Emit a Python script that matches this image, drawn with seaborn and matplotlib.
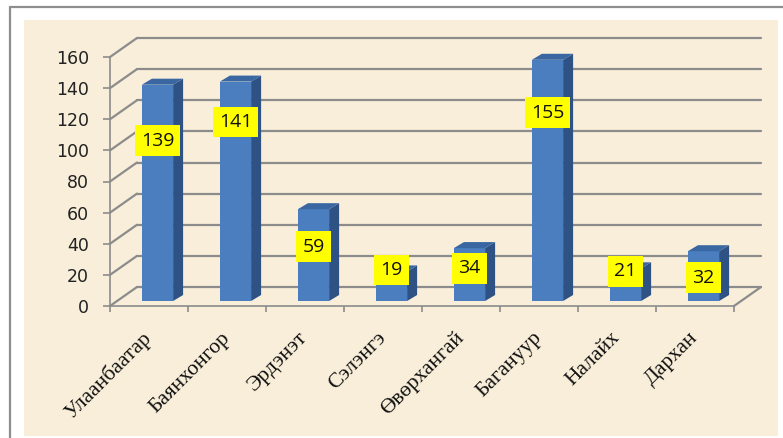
import matplotlib
matplotlib.use("Agg")
import matplotlib.pyplot as plt
import numpy as np
import pandas as pd
import seaborn as sns
from matplotlib.transforms import Affine2D, IdentityTransform
from matplotlib.patches import Polygon, Rectangle
from matplotlib.lines import Line2D

# ---- data ----
categories = ["Улаанбаатар", "Баянхонгор", "Эрдэнэт", "Сэлэнгэ",
              "Өвөрхангай", "Багануур", "Налайх", "Дархан"]
values = [139, 141, 59, 19, 34, 155, 21, 32]
label_pos = [103, 115, 35, 20, 21, 121, 19, 15]
yticks = [0, 20, 40, 60, 80, 100, 120, 140, 160]

# ---- style ----
W, H = 783, 438
FRONT = "#4A7EBF"
SIDE = "#2E5284"
TOP = "#3A66A2"
GRID = "#8C8C8C"
PARCH = "#F8EED9"
DEPTH = (27, 19)      # front plane -> back wall (display px)
BAR_OFF = (8.5, 5)    # front plane -> bar front face
BAR_D = (10, 6)       # bar depth

sns.set_theme(style="white")
plt.rcParams["font.family"] = ["DejaVu Sans"]

fig = plt.figure(figsize=(W / 100, H / 100), dpi=100)
fig.patch.set_facecolor("white")

def fig_rect(x0, y0, x1, y1, **kw):
    return Rectangle((x0 / W, 1 - y1 / H), (x1 - x0) / W, (y1 - y0) / H,
                     transform=fig.transFigure, **kw)

fig.add_artist(fig_rect(24, 20, 778, 436, facecolor=PARCH, edgecolor="none", zorder=0))
fig.add_artist(Line2D([10 / W, 10 / W], [0, 1 - 7 / H], transform=fig.transFigure,
                      color="#8E8E8E", lw=1.6, zorder=1))
fig.add_artist(Line2D([10 / W, 1], [1 - 7 / H, 1 - 7 / H], transform=fig.transFigure,
                      color="#8E8E8E", lw=1.6, zorder=1))

ax = fig.add_axes([110 / W, (H - 306) / H, 624 / W, 249 / H])
ax.set_facecolor("none")

df = pd.DataFrame({"city": categories, "value": values})
sns.barplot(data=df, x="city", y="value", color=FRONT, saturation=1,
            width=0.4, ax=ax, zorder=4)
ax.set_xlim(-0.5, len(categories) - 0.5)
ax.set_ylim(0, 160)
ax.set_yticks(yticks)
ax.set_xlabel("")
ax.set_ylabel("")

bar_tr = ax.transData + Affine2D().translate(*BAR_OFF)
back_tr = ax.transData + Affine2D().translate(*DEPTH)

# back wall gridlines and left wall diagonals
fig.canvas.draw()
x_lo, x_hi = ax.get_xlim()
for v in yticks:
    ax.add_line(Line2D([x_lo, x_hi], [v, v], transform=back_tr, color=GRID,
                       lw=1.6, zorder=1, clip_on=False))
    px, py = ax.transData.transform((x_lo, v))
    ax.add_line(Line2D([px, px + DEPTH[0]], [py, py + DEPTH[1]],
                       transform=IdentityTransform(), color=GRID, lw=1.6,
                       zorder=1, clip_on=False))
px, py = ax.transData.transform((x_hi, 0))
ax.add_line(Line2D([px, px + DEPTH[0]], [py, py + DEPTH[1]],
                   transform=IdentityTransform(), color=GRID, lw=1.6,
                   zorder=1, clip_on=False))

# 3D bars
for p in list(ax.patches):
    p.set_transform(bar_tr)
    p.set_clip_on(False)
    p.set_edgecolor("none")
    x0, y0 = p.get_x(), p.get_y()
    w, h = p.get_width(), p.get_height()
    (ax0, ay0) = bar_tr.transform((x0, y0))
    (ax1, ay1) = bar_tr.transform((x0 + w, y0 + h))
    dx, dy = BAR_D
    side = Polygon([(ax1, ay0), (ax1, ay1), (ax1 + dx, ay1 + dy), (ax1 + dx, ay0 + dy)],
                   closed=True, transform=IdentityTransform(), facecolor=SIDE,
                   edgecolor="none", zorder=4, clip_on=False)
    top = Polygon([(ax0, ay1), (ax1, ay1), (ax1 + dx, ay1 + dy), (ax0 + dx, ay1 + dy)],
                  closed=True, transform=IdentityTransform(), facecolor=TOP,
                  edgecolor="none", zorder=4, clip_on=False)
    ax.add_patch(side)
    ax.add_patch(top)

# data labels
for i, (v, lp) in enumerate(zip(values, label_pos)):
    ax.text(i, lp, str(v), transform=bar_tr, ha="center", va="center",
            fontsize=14, family=["Open Sans", "DejaVu Sans"], color="#111111",
            zorder=6, clip_on=False,
            bbox=dict(boxstyle="square,pad=0.32", facecolor="#FFFF00", edgecolor="none"))

# axes styling
for s in ["top", "right"]:
    ax.spines[s].set_visible(False)
for s in ["left", "bottom"]:
    ax.spines[s].set_color(GRID)
    ax.spines[s].set_linewidth(1.2)
    ax.spines[s].set_zorder(2)

ax.tick_params(axis="y", which="major", direction="out", length=5, width=1.2,
               color=GRID, pad=10, labelsize=12.5, labelcolor="#222222", left=True)
ax.set_xticks(np.arange(-0.5, len(categories)), minor=True)
ax.tick_params(axis="x", which="minor", direction="out", length=4, width=1.2,
               color=GRID, bottom=True)
ax.tick_params(axis="x", which="major", length=0, pad=21)
ax.set_xticks(range(len(categories)))
ax.set_xticklabels(categories, rotation=45, ha="right", va="center",
                   rotation_mode="anchor", fontsize=15.5,
                   family=["Liberation Serif", "DejaVu Serif"], color="#111111")

fig.savefig("out.png", dpi=100)
